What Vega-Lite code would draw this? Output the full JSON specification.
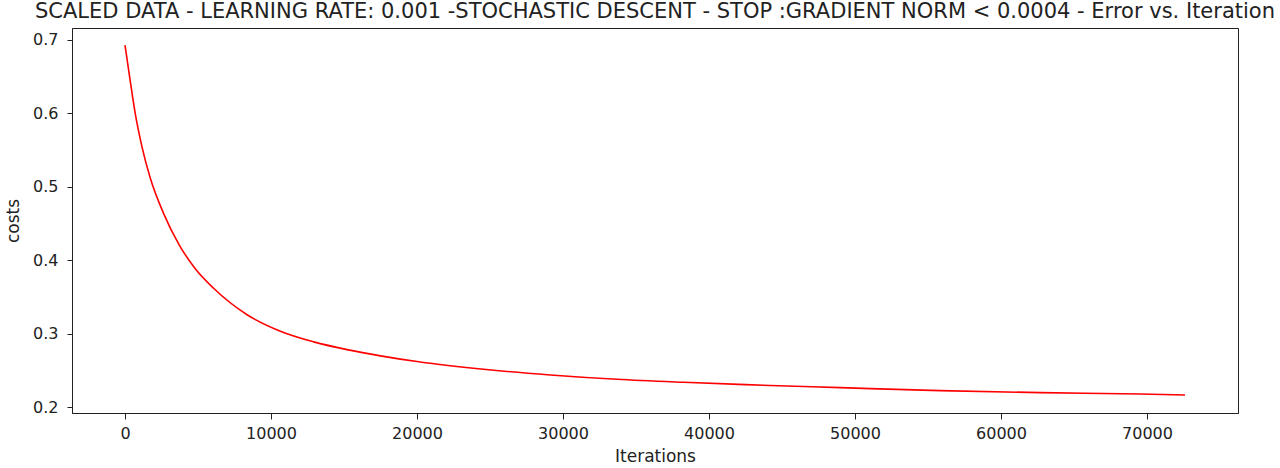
{
  "$schema": "https://vega.github.io/schema/vega-lite/v6.json",
  "width": 1166,
  "height": 385,
  "autosize": {"type": "none"},
  "padding": {"left": 72, "top": 28, "right": 42, "bottom": 55},
  "background": "white",
  "title": {
    "text": "SCALED DATA - LEARNING RATE: 0.001 -STOCHASTIC DESCENT - STOP :GRADIENT NORM < 0.0004 - Error vs. Iteration",
    "font": "DejaVu Sans",
    "fontSize": 21,
    "fontWeight": "normal",
    "color": "#222222",
    "anchor": "middle",
    "offset": 6
  },
  "config": {
    "view": {"stroke": "#222222", "strokeWidth": 1},
    "axis": {
      "labelFont": "DejaVu Sans",
      "titleFont": "DejaVu Sans",
      "labelFontSize": 16,
      "titleFontSize": 17,
      "titleFontWeight": "normal",
      "labelColor": "#222222",
      "titleColor": "#222222",
      "domainColor": "#222222",
      "tickColor": "#222222",
      "grid": false
    }
  },
  "data": {
    "values": [
      {"iteration": 0, "cost": 0.6931},
      {"iteration": 360, "cost": 0.6440},
      {"iteration": 700, "cost": 0.6000},
      {"iteration": 1160, "cost": 0.5548},
      {"iteration": 1730, "cost": 0.5120},
      {"iteration": 2640, "cost": 0.4640},
      {"iteration": 3700, "cost": 0.4215},
      {"iteration": 4800, "cost": 0.3890},
      {"iteration": 6070, "cost": 0.3620},
      {"iteration": 8360, "cost": 0.3260},
      {"iteration": 10640, "cost": 0.3035},
      {"iteration": 12920, "cost": 0.2890},
      {"iteration": 15300, "cost": 0.2781},
      {"iteration": 17500, "cost": 0.2700},
      {"iteration": 20000, "cost": 0.2622},
      {"iteration": 24560, "cost": 0.2517},
      {"iteration": 29130, "cost": 0.2440},
      {"iteration": 33700, "cost": 0.2381},
      {"iteration": 38260, "cost": 0.2340},
      {"iteration": 42500, "cost": 0.2308},
      {"iteration": 49000, "cost": 0.2267},
      {"iteration": 55840, "cost": 0.2226},
      {"iteration": 62700, "cost": 0.2199},
      {"iteration": 69540, "cost": 0.2181},
      {"iteration": 72600, "cost": 0.2167}
    ]
  },
  "mark": {"type": "line", "color": "#ff0000", "strokeWidth": 1.6, "interpolate": "monotone", "clip": true},
  "encoding": {
    "x": {
      "field": "iteration",
      "type": "quantitative",
      "title": "Iterations",
      "scale": {"domain": [-3630, 76230], "nice": false, "zero": false},
      "axis": {"values": [0, 10000, 20000, 30000, 40000, 50000, 60000, 70000], "format": "d", "tickSize": 6, "labelPadding": 6, "titlePadding": 7, "labelFlush": false}
    },
    "y": {
      "field": "cost",
      "type": "quantitative",
      "title": "costs",
      "scale": {"domain": [0.1922, 0.7163], "nice": false, "zero": false},
      "axis": {"values": [0.2, 0.3, 0.4, 0.5, 0.6, 0.7], "format": ".1f", "tickSize": 5, "labelPadding": 9, "titlePadding": 10, "labelFlush": false}
    }
  }
}
